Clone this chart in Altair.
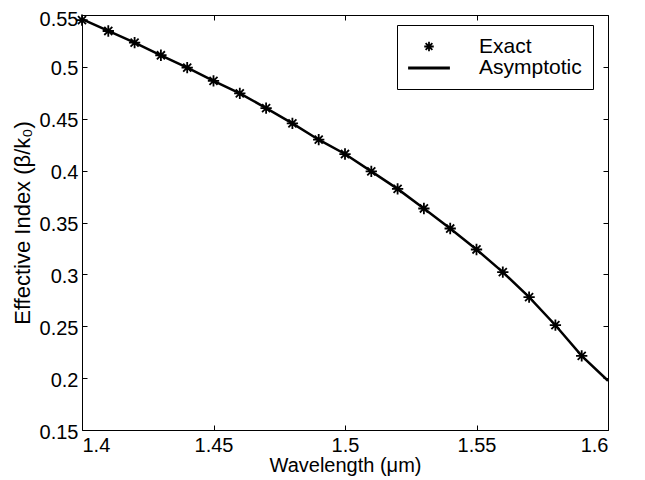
import altair as alt
import pandas as pd

# ---- data ----
exact_wl = [1.40, 1.41, 1.42, 1.43, 1.44, 1.45, 1.46, 1.47, 1.48, 1.49,
            1.50, 1.51, 1.52, 1.53, 1.54, 1.55, 1.56, 1.57, 1.58, 1.59]
exact_neff = [0.545, 0.5346, 0.5234, 0.5112, 0.4993, 0.4865, 0.4745, 0.4603, 0.4455, 0.4298,
              0.4160, 0.3993, 0.3824, 0.3635, 0.3442, 0.3240, 0.3022, 0.2780, 0.2510, 0.2214]
asym_wl = [1.40, 1.41, 1.42, 1.43, 1.44, 1.45, 1.46, 1.47, 1.48, 1.49, 1.50,
           1.51, 1.52, 1.53, 1.54, 1.55, 1.56, 1.57, 1.58, 1.59, 1.60]
asym_neff = [0.546, 0.5346, 0.5234, 0.5112, 0.4993, 0.4865, 0.4745, 0.4603, 0.4455, 0.4298, 0.4160,
             0.3993, 0.3824, 0.3635, 0.3442, 0.3240, 0.3022, 0.2780, 0.2510, 0.2214, 0.1975]
series_names = ["Exact", "Asymptotic"]
x_ticks = [1.4, 1.45, 1.5, 1.55, 1.6]
y_ticks = [0.15, 0.2, 0.25, 0.3, 0.35, 0.4, 0.45, 0.5, 0.55]

FONT = "Liberation Sans, Arial, Helvetica, sans-serif"
W, H = 526, 415

star_path = ("M-0.5,0L0.5,0M0,-0.5L0,0.5"
             "M-0.355,-0.355L0.355,0.355M-0.355,0.355L0.355,-0.355")
line_path = "M-2.2,0L2.2,0"

exact_df = pd.DataFrame({"wl": exact_wl, "neff": exact_neff, "series": "Exact"})
asym_df = pd.DataFrame({"wl": asym_wl, "neff": asym_neff})

x_scale = alt.Scale(domain=[1.4, 1.6], nice=False, zero=False)
y_scale = alt.Scale(domain=[0.15, 0.55], nice=False, zero=False)

common = dict(labelFont=FONT, titleFont=FONT, labelFontSize=20,
              labelColor="black", titleColor="black", titleFontWeight="normal",
              ticks=False, domain=False, grid=True, gridColor="black",
              gridOpacity=1, gridWidth=1, labelOverlap=False)

x_axis = alt.Axis(values=x_ticks, format=".2~f", title="Wavelength (μm)",
                  gridDash=[5, H - 10, 5, 3000], labelPadding=5, titlePadding=0,
                  titleFontSize=20, **common)
y_axis = alt.Axis(values=y_ticks, format=".2~f", title="Effective Index (β/k₀)",
                  gridDash=[5, W - 10, 5, 3000], labelPadding=4, titlePadding=5,
                  titleFontSize=22,
                  labelOffset={"condition": {"test": "datum.value > 0.54", "value": 4}, "value": 2},
                  **common)

legend = alt.Legend(title=None, orient="none", legendX=315, legendY=10,
                    strokeColor="black", fillColor="white", padding=11,
                    symbolSize=361, rowPadding=-5, labelFontSize=21,
                    labelFont=FONT, labelColor="black",
                    labelExpr="datum.label + ' '",
                    symbolOffset=10, labelOffset=39,
                    symbolStrokeColor="black")

line = alt.Chart(asym_df).mark_line(color="black", strokeWidth=2.5).encode(
    x=alt.X("wl:Q", scale=x_scale, axis=x_axis),
    y=alt.Y("neff:Q", scale=y_scale, axis=y_axis),
)

stars = alt.Chart(exact_df).mark_point(color="black", filled=False, size=512, opacity=1).encode(
    x=alt.X("wl:Q", scale=x_scale),
    y=alt.Y("neff:Q", scale=y_scale),
    shape=alt.Shape("series:N", scale=alt.Scale(domain=series_names, range=[star_path, line_path]),
                    legend=legend),
    strokeWidth=alt.StrokeWidth("series:N", scale=alt.Scale(domain=series_names, range=[1.8, 3.0]),
                                legend=legend),
)

chart = alt.layer(line, stars).properties(
    width=W, height=H,
    autosize=alt.AutoSizeParams(type="none"),
    padding={"left": 74, "top": 7, "right": 29, "bottom": 50},
    background="white",
).configure_view(
    stroke="black", strokeWidth=1
)

chart.save("out.html", embed_options={"renderer": "svg", "actions": False})
